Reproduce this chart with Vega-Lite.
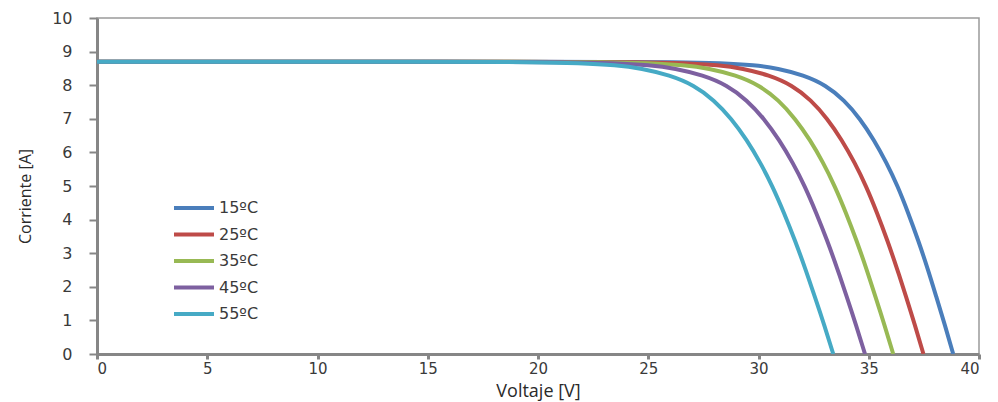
{
  "$schema": "https://vega.github.io/schema/vega-lite/v6.json",
  "width": 882,
  "height": 336,
  "autosize": {"type": "none"},
  "padding": {"left": 97, "top": 18, "right": 19, "bottom": 48},
  "background": "white",
  "config": {
    "view": {"stroke": "#9a9a9a", "strokeWidth": 1.5},
    "axis": {"grid": false}
  },
  "data": {
    "values": [
      {"t": "15ºC", "v": 0, "i": 8.7}, {"t": "15ºC", "v": 23.31, "i": 8.7}, {"t": "15ºC", "v": 26.22, "i": 8.69}, {"t": "15ºC", "v": 28.35, "i": 8.66}, {"t": "15ºC", "v": 29.81, "i": 8.6}, {"t": "15ºC", "v": 30.88, "i": 8.5}, {"t": "15ºC", "v": 32.04, "i": 8.3}, {"t": "15ºC", "v": 33.06, "i": 8.0}, {"t": "15ºC", "v": 33.88, "i": 7.56}, {"t": "15ºC", "v": 34.61, "i": 7.0}, {"t": "15ºC", "v": 35.24, "i": 6.37}, {"t": "15ºC", "v": 35.8, "i": 5.7}, {"t": "15ºC", "v": 36.31, "i": 5.0}, {"t": "15ºC", "v": 36.79, "i": 4.2}, {"t": "15ºC", "v": 37.24, "i": 3.39}, {"t": "15ºC", "v": 37.67, "i": 2.55}, {"t": "15ºC", "v": 38.06, "i": 1.71}, {"t": "15ºC", "v": 38.46, "i": 0.85}, {"t": "15ºC", "v": 38.83, "i": 0},
      {"t": "25ºC", "v": 0, "i": 8.7}, {"t": "25ºC", "v": 21.48, "i": 8.7}, {"t": "25ºC", "v": 24.48, "i": 8.69}, {"t": "25ºC", "v": 26.68, "i": 8.66}, {"t": "25ºC", "v": 28.18, "i": 8.6}, {"t": "25ºC", "v": 29.28, "i": 8.5}, {"t": "25ºC", "v": 30.48, "i": 8.3}, {"t": "25ºC", "v": 31.53, "i": 8.0}, {"t": "25ºC", "v": 32.38, "i": 7.56}, {"t": "25ºC", "v": 33.13, "i": 7.0}, {"t": "25ºC", "v": 33.78, "i": 6.37}, {"t": "25ºC", "v": 34.36, "i": 5.7}, {"t": "25ºC", "v": 34.88, "i": 5.0}, {"t": "25ºC", "v": 35.38, "i": 4.2}, {"t": "25ºC", "v": 35.84, "i": 3.39}, {"t": "25ºC", "v": 36.28, "i": 2.55}, {"t": "25ºC", "v": 36.69, "i": 1.71}, {"t": "25ºC", "v": 37.1, "i": 0.85}, {"t": "25ºC", "v": 37.48, "i": 0},
      {"t": "35ºC", "v": 0, "i": 8.7}, {"t": "35ºC", "v": 19.79, "i": 8.7}, {"t": "35ºC", "v": 22.85, "i": 8.69}, {"t": "35ºC", "v": 25.09, "i": 8.66}, {"t": "35ºC", "v": 26.62, "i": 8.6}, {"t": "35ºC", "v": 27.75, "i": 8.5}, {"t": "35ºC", "v": 28.97, "i": 8.3}, {"t": "35ºC", "v": 30.04, "i": 8.0}, {"t": "35ºC", "v": 30.91, "i": 7.56}, {"t": "35ºC", "v": 31.67, "i": 7.0}, {"t": "35ºC", "v": 32.34, "i": 6.37}, {"t": "35ºC", "v": 32.93, "i": 5.7}, {"t": "35ºC", "v": 33.46, "i": 5.0}, {"t": "35ºC", "v": 33.97, "i": 4.2}, {"t": "35ºC", "v": 34.44, "i": 3.39}, {"t": "35ºC", "v": 34.89, "i": 2.55}, {"t": "35ºC", "v": 35.3, "i": 1.71}, {"t": "35ºC", "v": 35.72, "i": 0.85}, {"t": "35ºC", "v": 36.11, "i": 0},
      {"t": "45ºC", "v": 0, "i": 8.7}, {"t": "45ºC", "v": 18.03, "i": 8.7}, {"t": "45ºC", "v": 21.18, "i": 8.69}, {"t": "45ºC", "v": 23.49, "i": 8.66}, {"t": "45ºC", "v": 25.06, "i": 8.6}, {"t": "45ºC", "v": 26.22, "i": 8.5}, {"t": "45ºC", "v": 27.48, "i": 8.3}, {"t": "45ºC", "v": 28.58, "i": 8.0}, {"t": "45ºC", "v": 29.47, "i": 7.56}, {"t": "45ºC", "v": 30.26, "i": 7.0}, {"t": "45ºC", "v": 30.94, "i": 6.37}, {"t": "45ºC", "v": 31.55, "i": 5.7}, {"t": "45ºC", "v": 32.1, "i": 5.0}, {"t": "45ºC", "v": 32.62, "i": 4.2}, {"t": "45ºC", "v": 33.11, "i": 3.39}, {"t": "45ºC", "v": 33.57, "i": 2.55}, {"t": "45ºC", "v": 34.0, "i": 1.71}, {"t": "45ºC", "v": 34.43, "i": 0.85}, {"t": "45ºC", "v": 34.83, "i": 0},
      {"t": "55ºC", "v": 0, "i": 8.7}, {"t": "55ºC", "v": 16.43, "i": 8.7}, {"t": "55ºC", "v": 19.61, "i": 8.69}, {"t": "55ºC", "v": 21.94, "i": 8.66}, {"t": "55ºC", "v": 23.53, "i": 8.6}, {"t": "55ºC", "v": 24.7, "i": 8.5}, {"t": "55ºC", "v": 25.97, "i": 8.3}, {"t": "55ºC", "v": 27.08, "i": 8.0}, {"t": "55ºC", "v": 27.98, "i": 7.56}, {"t": "55ºC", "v": 28.78, "i": 7.0}, {"t": "55ºC", "v": 29.47, "i": 6.37}, {"t": "55ºC", "v": 30.08, "i": 5.7}, {"t": "55ºC", "v": 30.63, "i": 5.0}, {"t": "55ºC", "v": 31.16, "i": 4.2}, {"t": "55ºC", "v": 31.65, "i": 3.39}, {"t": "55ºC", "v": 32.12, "i": 2.55}, {"t": "55ºC", "v": 32.55, "i": 1.71}, {"t": "55ºC", "v": 32.99, "i": 0.85}, {"t": "55ºC", "v": 33.39, "i": 0}
    ]
  },
  "mark": {"type": "line", "interpolate": "basis", "strokeWidth": 4, "clip": true},
  "encoding": {
    "x": {
      "field": "v", "type": "quantitative",
      "scale": {"domain": [0, 40], "nice": false},
      "axis": {
        "title": "Voltaje [V]",
        "values": [0, 5, 10, 15, 20, 25, 30, 35, 40],
        "domainColor": "#868686", "domainWidth": 3,
        "tickColor": "#868686", "tickWidth": 3, "tickSize": 5,
        "labelFont": "DejaVu Sans", "labelFontSize": 15, "labelColor": "#3a3a3a", "labelPadding": 2,
        "titleFont": "Open Sans", "titleFontSize": 18, "titleFontWeight": "normal", "titleColor": "#2a2a2a",
        "titleBaseline": "alphabetic", "titleY": 42, "titleX": 441
      }
    },
    "y": {
      "field": "i", "type": "quantitative",
      "scale": {"domain": [0, 10], "nice": false},
      "axis": {
        "title": "Corriente [A]",
        "values": [0, 1, 2, 3, 4, 5, 6, 7, 8, 9, 10],
        "domainColor": "#868686", "domainWidth": 3,
        "tickColor": "#868686", "tickWidth": 2, "tickSize": 8,
        "labelFont": "DejaVu Sans", "labelFontSize": 16, "labelColor": "#3a3a3a", "labelPadding": 17,
        "titleFont": "Open Sans", "titleFontSize": 16, "titleFontWeight": "normal", "titleColor": "#2a2a2a",
        "titleAngle": 270, "titleBaseline": "middle", "titleAlign": "center", "titleX": -72, "titleY": 178
      }
    },
    "color": {
      "field": "t", "type": "nominal",
      "scale": {"domain": ["15ºC", "25ºC", "35ºC", "45ºC", "55ºC"], "range": ["#4A7EBB", "#BE4B48", "#98B954", "#7D60A0", "#46AAC5"]},
      "legend": {
        "title": null, "orient": "none", "legendX": 75, "legendY": 182,
        "symbolType": "stroke", "symbolSize": 1600, "symbolStrokeWidth": 4,
        "clipHeight": 16, "rowPadding": 10.5, "padding": 0, "labelOffset": 3,
        "labelFont": "DejaVu Sans", "labelFontSize": 16, "labelColor": "#3a3a3a"
      }
    }
  }
}
